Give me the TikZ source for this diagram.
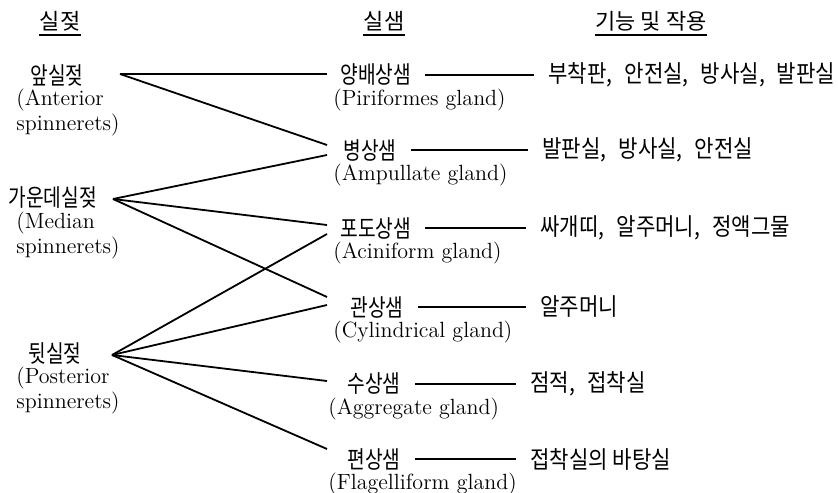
\documentclass[tikz,border=0pt]{standalone}
\usepackage{fontspec}
\newfontfamily\krfont[FakeStretch=0.8]{Noto Sans CJK KR}
\newfontfamily\fnfont[FakeStretch=0.88]{Noto Sans CJK KR}
\newfontfamily\hdfont{Noto Sans CJK KR}
\newcommand{\ksep}{,\hspace{6pt}}
\tikzset{
  kr/.style={font=\krfont\fontsize{12}{14}\selectfont, inner sep=0pt, anchor=west},
  fn/.style={kr, font=\fnfont\fontsize{12}{14}\selectfont},
  en/.style={font=\fontsize{11}{12.5}\selectfont, inner sep=0pt,
             align=left, anchor=north west},
  hd/.style={font=\hdfont\fontsize{11}{13}\selectfont, inner sep=0pt, anchor=base},
  ln/.style={line width=0.9pt, black},
  ul/.style={line width=0.8pt, black},
}

\begin{document}
\begin{tikzpicture}[x=0.5pt, y=-0.5pt]
  \useasboundingbox (0,0) rectangle (838,492);
  %% column heads
  \node[hd] (hsp) at (60,30)  {실젖};
  \node[hd] (hgl) at (384,30) {실샘};
  \node[hd] (hfn) at (651,30) {기능 및 작용};
  \foreach \h in {hsp,hgl,hfn}
    \draw[ul] ([yshift=-1.5pt]\h.south west) -- ([yshift=-1.5pt]\h.south east);
  %% spinnerets
  \node[kr] (ant) at (30,75)  {앞실젖};
  \node[en] at (16,89)        {(Anterior\\spinnerets)};
  \node[kr] (med) at (8,198)  {가운데실젖};
  \node[en] at (16,212)       {(Median\\spinnerets)};
  \node[kr] (pos) at (28,353) {뒷실젖};
  \node[en] at (16,367)       {(Posterior\\spinnerets)};
  \coordinate (antJ) at (120,74);
  \coordinate (medJ) at (113,199);
  \coordinate (posJ) at (112,355);
  \coordinate (gx) at (327,0);
  %% glands
  \node[kr] (pir) at (340,75)  {양배상샘};
  \node[en] at (333,89)        {(Piriformes gland)};
  \node[kr] (amp) at (343,150) {병상샘};
  \node[en] at (333,164)       {(Ampullate gland)};
  \node[kr] (aci) at (340,228) {포도상샘};
  \node[en] at (333,242)       {(Aciniform gland)};
  \node[kr] (cyl) at (350,307) {관상샘};
  \node[en] at (333,321)       {(Cylindrical gland)};
  \node[kr] (agg) at (347,384) {수상샘};
  \node[en] at (328,398)       {(Aggregate gland)};
  \node[kr] (fla) at (347,459) {편상샘};
  \node[en] at (328,473)       {(Flagelliform gland)};
  %% functions
  \node[fn] (fpir) at (548,75)  {부착판\ksep 안전실\ksep 방사실\ksep 발판실};
  \node[fn] (famp) at (542,150) {발판실\ksep 방사실\ksep 안전실};
  \node[fn] (faci) at (540,228) {싸개띠\ksep 알주머니\ksep 정액그물};
  \node[fn] (fcyl) at (540,307) {알주머니};
  \node[fn] (fagg) at (530,384) {점적\ksep 접착실};
  \node[fn] (ffla) at (530,459) {접착실의 바탕실};
  %% spinneret -> gland
  \foreach \a/\b/\s in {antJ/pir/0.5pt, antJ/amp/2.5pt, medJ/amp/-2.5pt,
                        medJ/aci/1.5pt, posJ/aci/-3pt, medJ/cyl/5pt,
                        posJ/cyl/1pt, posJ/agg/1.5pt, posJ/fla/5pt}
    \draw[ln] (\a) -- ([yshift=\s]\b.west -| gx);
  %% gland -> function
  \foreach \g in {pir,amp,aci,cyl,agg,fla}
    \draw[ln, shorten <=7pt, shorten >=7pt] (\g.east) -- (\g.east -| f\g.west);
\end{tikzpicture}
\end{document}
